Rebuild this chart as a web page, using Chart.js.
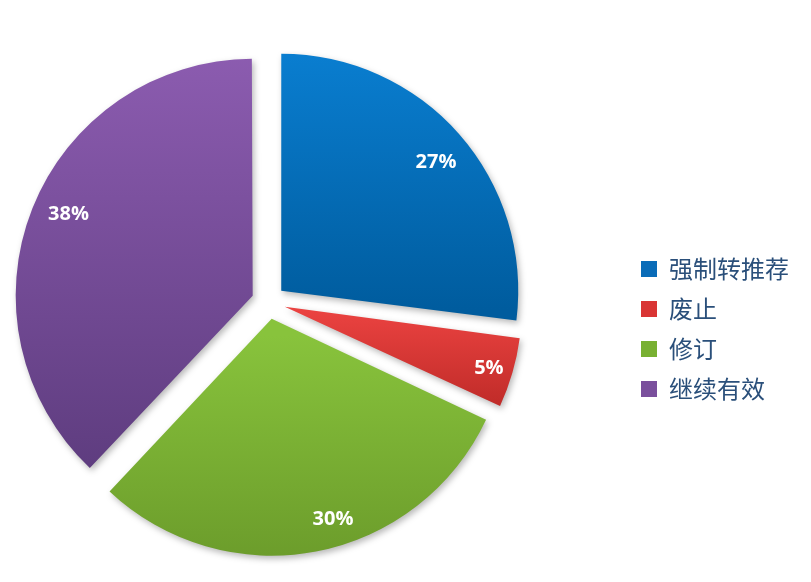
<!DOCTYPE html>
<html>
<head>
<meta charset="utf-8">
<script src="https://cdn.jsdelivr.net/npm/chart.js@4/dist/chart.umd.min.js"></script>
<style>
  body { margin: 0; background: #fff; overflow: hidden; }
  /* canvas is wider than the window and shifted left so the pie sits where it does in the picture */
  canvas { display: block; margin-left: -88px; }
</style>
</head>
<body>
<canvas id="PieChart" width="899" height="582"></canvas>
<script>
        // Data
        const categories = ['强制转推荐', '废止', '修订', '继续有效'];
        const values = [27, 5, 30, 38];

        // Colours (top / bottom of each slice gradient, flat colour for legend)
        const topColors = ['#0a7fd2', '#ea4240', '#88c33c', '#8c5cb0'];
        const bottomColors = ['#005c9e', '#bd2a27', '#6a9a2a', '#5f3d80'];
        const legendColors = ['#0a6cb8', '#d93534', '#78b032', '#7a4f9c'];

        const pieRadius = 237;
        const explode = 17;   // how far each slice is pulled out (px)

        // where each % label sits inside its slice (best-fit look): radius fraction and angle nudge in degrees
        const labelRadius = [0.85, 0.90, 0.885, 0.85];
        const labelNudge = [1.6, 0.7, -6.2, 2.3];

        const ctx_pie = document.getElementById('PieChart').getContext('2d');

        // gradient from top to bottom of each slice
        function sliceGradient(context) {
            const chart = context.chart;
            const ca = chart.chartArea;
            const i = context.dataIndex;
            if (!ca || i === undefined) return legendColors[i || 0];
            const total = values.reduce((a, b) => a + b, 0);
            let before = 0;
            for (let k = 0; k < i; k++) before += values[k];
            const a0 = before / total * 2 * Math.PI - Math.PI / 2;
            const a1 = (before + values[i]) / total * 2 * Math.PI - Math.PI / 2;
            const mid = (a0 + a1) / 2;
            const cy = (ca.top + ca.bottom) / 2 + Math.sin(mid) * explode;
            const ys = [cy, cy + Math.sin(a0) * pieRadius, cy + Math.sin(a1) * pieRadius];
            [-Math.PI / 2, Math.PI / 2, 3 * Math.PI / 2].forEach(a => {
                if (a >= a0 && a <= a1) ys.push(cy + Math.sin(a) * pieRadius);
            });
            const g = chart.ctx.createLinearGradient(0, Math.min(...ys), 0, Math.max(...ys));
            g.addColorStop(0, topColors[i]);
            g.addColorStop(1, bottomColors[i]);
            return g;
        }

        // soft shadow under the slices + percentage labels on them
        const sliceDecor = {
            id: 'sliceDecor',
            beforeDatasetsDraw(chart) {
                // Chart.js grows pulled-out slices a little, undo that
                chart.getDatasetMeta(0).data.forEach((arc) => {
                    const fix = 1 - Math.sin(Math.min(Math.PI, arc.circumference));
                    arc.outerRadius = pieRadius - explode * fix;
                });
                const c = chart.ctx;
                c.save();
                c.shadowColor = 'rgba(0, 0, 0, 0.28)';
                c.shadowBlur = 6;
                c.shadowOffsetX = 2;
                c.shadowOffsetY = 3;
            },
            afterDatasetsDraw(chart) {
                const c = chart.ctx;
                c.restore();
                const meta = chart.getDatasetMeta(0);
                const total = values.reduce((a, b) => a + b, 0);
                c.save();
                c.fillStyle = '#ffffff';
                c.font = 'bold 20px "Open Sans", "DejaVu Sans", sans-serif';
                c.textAlign = 'center';
                c.textBaseline = 'middle';
                meta.data.forEach((arc, i) => {
                    const p = arc.getProps(['x', 'y', 'startAngle', 'endAngle']);
                    const mid = (p.startAngle + p.endAngle) / 2;
                    const sx = p.x + Math.cos(mid) * explode;
                    const sy = p.y + Math.sin(mid) * explode;
                    const a = mid + labelNudge[i] * Math.PI / 180;
                    const r = pieRadius * labelRadius[i];
                    const txt = Math.round(values[i] / total * 100) + '%';
                    c.fillText(txt, sx + Math.cos(a) * r, sy + Math.sin(a) * r);
                });
                c.restore();
            }
        };

        const pie = new Chart(ctx_pie, {
            type: 'pie',
            data: {
                labels: categories,
                datasets: [{
                    data: values,
                    backgroundColor: sliceGradient,
                    borderWidth: 0,
                    offset: explode * 4, // Chart.js moves a slice by offset / 4
                    hoverOffset: 0
                }]
            },
            options: {
                responsive: false,
                animation: false,
                radius: pieRadius,
                layout: {
                    padding: { left: 0, right: 12, top: 22, bottom: 0 }
                },
                plugins: {
                    legend: {
                        position: 'right',
                        title: {
                            display: true,
                            text: '',
                            font: { size: 16, lineHeight: 1 },
                            padding: { top: 38, bottom: 0 }
                        },
                        labels: {
                            boxWidth: 16,
                            boxHeight: 16,
                            padding: 16,
                            color: '#2a4f7a',
                            font: { size: 24, family: '"Noto Sans CJK SC", sans-serif' },
                            generateLabels(chart) {
                                const items = Chart.overrides.pie.plugins.legend.labels.generateLabels(chart);
                                items.forEach((it, i) => {
                                    it.fillStyle = legendColors[i];
                                    it.strokeStyle = legendColors[i];
                                    it.lineWidth = 0;
                                });
                                return items;
                            }
                        }
                    },
                    tooltip: { enabled: false }
                }
            },
            plugins: [sliceDecor]
        });
</script>
</body>
</html>
